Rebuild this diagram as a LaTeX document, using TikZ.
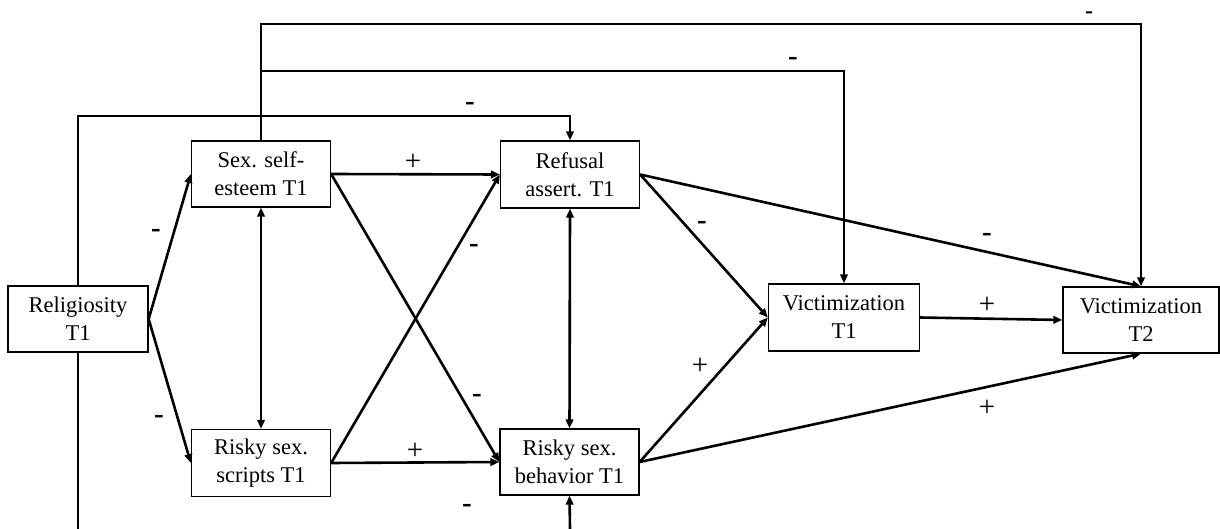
\documentclass[tikz,border=0pt]{standalone}
\usepackage{fontspec}
\setmainfont{Liberation Serif}
\usetikzlibrary{arrows.meta}
\begin{document}
\begin{tikzpicture}[x=1pt,y=-1pt,
  box/.style={draw,line width=1.3pt,rectangle,inner sep=0pt,align=center,
    font=\fontsize{22.5}{28}\selectfont},
  arr/.style={line width=2.6pt,-{Triangle[length=9pt,width=7.5pt]}},
  darr/.style={line width=2.6pt,{Triangle[length=9pt,width=7.5pt]}-{Triangle[length=9pt,width=7.5pt]}},
  ln/.style={line width=2.6pt},
  sgn/.style={font=\fontsize{29}{30}\selectfont,inner sep=0pt}]
\useasboundingbox (0,0) rectangle (1220,529);
% nodes
\node[box,minimum width=140pt,minimum height=66pt] (rel) at (78,319) {Religiosity\\T1};
\node[box,minimum width=139pt,minimum height=66pt] (sse) at (261,174) {Sex. self-\\esteem T1};
\node[box,minimum width=139pt,minimum height=67pt] (ref) at (570,174.5) {Refusal\\assert. T1};
\node[box,minimum width=139pt,minimum height=67pt] (rss) at (261,463) {Risky sex.\\scripts T1};
\node[box,minimum width=139pt,minimum height=66pt] (rsb) at (569.5,462) {Risky sex.\\behavior T1};
\node[box,minimum width=151pt,minimum height=67pt] (v1) at (844,317.5) {Victimization\\T1};
\node[box,minimum width=156pt,minimum height=66pt] (v2) at (1141,320) {Victimization\\T2};
% helper coordinates
\coordinate (t1) at (261,24);
\coordinate (t2) at (261,71);
\coordinate (t3) at (78,116);
\coordinate (b1) at (78,529);
\coordinate (b2) at (570,529);
% connectors
\draw[arr] (rel.east) -- (sse.west);
\draw[arr] (rel.east) -- (rss.west);
\draw[arr] (sse.east) -- (ref.west);
\draw[arr] (sse.east) -- (rsb.west);
\draw[arr] (rss.east) -- (ref.west);
\draw[arr] (rss.east) -- (rsb.west);
\draw[darr] (sse.south) -- (rss.north);
\draw[darr] (ref.south) -- (rsb.north);
\draw[arr] (ref.east) -- (v1.west);
\draw[arr] (ref.east) -- (v2.north);
\draw[arr] (rsb.east) -- (v1.west);
\draw[arr] (rsb.east) -- (v2.south);
\draw[arr] (v1.east) -- (v2.west);
\draw[arr] (sse.north) -- (t1) -| (v2.north);
\draw[arr] (t2) -| (v1.north);
\draw[arr] (rel.north) -- (t3) -| (ref.north);
\draw[ln] (rel.south) -- (b1);
\draw[arr] (b2) -- (rsb.south);
% signs
\node[sgn,font=\fontsize{24}{25}\bfseries] (s1) at (1089,15) {-};
\node[sgn] (s2) at (793,61) {\textbf{-}};
\node[sgn] (s3) at (470,106) {\textbf{-}};
\node[sgn] (s4) at (413,162) {+};
\node[sgn] (s5) at (156,233) {\textbf{-}};
\node[sgn] (s6) at (159,419) {\textbf{-}};
\node[sgn] (s7) at (474,248) {\textbf{-}};
\node[sgn] (s8) at (477,398) {\textbf{-}};
\node[sgn] (s9) at (415,451) {+};
\node[sgn] (s10) at (467,508) {\textbf{-}};
\node[sgn] (s11) at (702,225) {\textbf{-}};
\node[sgn] (s12) at (987,237) {\textbf{-}};
\node[sgn] (s13) at (700,366) {+};
\node[sgn] (s14) at (987,305) {+};
\node[sgn] (s15) at (987,408) {+};
\end{tikzpicture}
\end{document}
